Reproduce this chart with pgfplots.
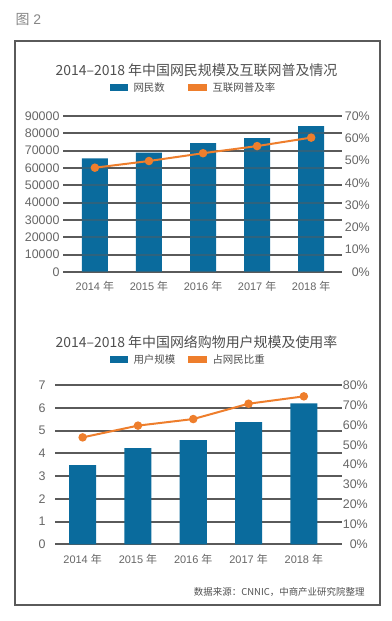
\documentclass[border=0pt]{standalone}
\usepackage{pgfplots}
\pgfplotsset{compat=1.18}
\usepackage{fontspec}
\setmainfont{Liberation Sans}
\newfontfamily\cjk{Noto Sans CJK SC}
\definecolor{barblue}{HTML}{0A6B9D}
\definecolor{lineorange}{HTML}{EE7E2C}
\definecolor{gridgray}{HTML}{5A5A5A}
\definecolor{txtgray}{HTML}{666666}
\definecolor{titlegray}{HTML}{4F4F4F}
\pgfplotsset{
  base/.style={scale only axis, axis line style={draw=none}, major tick length=0pt,
    tick label style={font=\fontsize{12.5}{14}\selectfont, text=txtgray},
    /pgf/number format/assume math mode=true,
    /pgf/number format/set thousands separator={},
    scaled y ticks=false, clip=false},
  yrs/.style={xtick={0,1,2,3,4},
    xticklabels={{2014 {\cjk 年}},{2015 {\cjk 年}},{2016 {\cjk 年}},{2017 {\cjk 年}},{2018 {\cjk 年}}},
    x tick label style={font=\fontsize{11}{13}\selectfont, yshift=-6bp}},
}
\begin{document}
\begin{tikzpicture}[x=1bp,y=1bp]
\path[use as bounding box] (0,0) rectangle (391,621);
\draw[gridgray, line width=2bp] (15,580) rectangle (380,16);
\node[anchor=west, text=gray!95, font=\fontsize{14}{16}\selectfont] at (12,601) {{\cjk 图} 2};

% ---------- chart 1 ----------
\node[text=titlegray, font=\fontsize{14}{16}\selectfont\cjk] at (196.5,551) {2014–2018 年中国网民规模及互联网普及情况};
\fill[barblue] (110,530) rectangle (128,536.5);
\node[anchor=west, text=titlegray, font=\fontsize{10.5}{12}\selectfont\cjk] at (130,533) {网民数};
\fill[lineorange] (188,530) rectangle (207,536.5);
\node[anchor=west, text=titlegray, font=\fontsize{10.5}{12}\selectfont\cjk] at (209,533) {互联网普及率};

\begin{axis}[base, yrs, at={(63bp,349bp)}, anchor=south west, width=279bp, height=156bp,
  xmin=-0.59, xmax=4.57, ymin=0, ymax=90000, ytick={0,10000,...,90000},
  ymajorgrids, grid style={gridgray, line width=2bp}]
\addplot[ybar, bar width=26bp, fill=barblue, draw=none] coordinates {(0,65600) (1,68800) (2,74400) (3,77300) (4,84200)};
\pgfplotsinvokeforeach{0,10000,20000,30000,40000,50000,60000,70000,80000,90000}{
  \draw[gridgray, opacity=0.45, line width=2bp] (axis cs:-0.59,#1) -- (axis cs:4.57,#1);}
\end{axis}
\begin{axis}[base, at={(63bp,349bp)}, anchor=south west, width=279bp, height=156bp,
  xmin=-0.59, xmax=4.57, ymin=0, ymax=70, ytick={0,10,...,70}, hide x axis,
  yticklabel pos=right, yticklabel={\pgfmathprintnumber{\tick}\%},
  y tick label style={anchor=east, inner sep=0pt, xshift=28bp}]
\addplot[lineorange, line width=2bp, mark=*, mark size=3.2bp, mark options={fill=lineorange, draw=none}]
  coordinates {(0,46.8) (1,49.8) (2,53.3) (3,56.5) (4,60.3)};
\end{axis}

% ---------- chart 2 ----------
\node[text=titlegray, font=\fontsize{14}{16}\selectfont\cjk] at (196.5,279) {2014–2018 年中国网络购物用户规模及使用率};
\fill[barblue] (110,258) rectangle (128,264.5);
\node[anchor=west, text=titlegray, font=\fontsize{10.5}{12}\selectfont\cjk] at (130,261) {用户规模};
\fill[lineorange] (188,258) rectangle (207,264.5);
\node[anchor=west, text=titlegray, font=\fontsize{10.5}{12}\selectfont\cjk] at (209,261) {占网民比重};

\begin{axis}[base, yrs, at={(55bp,76.7bp)}, anchor=south west, width=287bp, height=159.3bp,
  xmin=-0.5, xmax=4.69, ymin=0, ymax=7, ytick={0,1,...,7},
  y tick label style={xshift=-6bp},
  ymajorgrids, grid style={gridgray, line width=2bp}]
\addplot[ybar, bar width=27bp, fill=barblue, draw=none] coordinates {(0,3.48) (1,4.23) (2,4.58) (3,5.37) (4,6.19)};
\end{axis}
\begin{axis}[base, at={(55bp,76.7bp)}, anchor=south west, width=287bp, height=159.3bp,
  xmin=-0.5, xmax=4.69, ymin=0, ymax=80, ytick={0,10,...,80}, hide x axis,
  yticklabel pos=right, yticklabel={\pgfmathprintnumber{\tick}\%},
  y tick label style={anchor=east, inner sep=0pt, xshift=26bp}]
\addplot[lineorange, line width=2bp, mark=*, mark size=3.2bp, mark options={fill=lineorange, draw=none}]
  coordinates {(0,53.7) (1,59.6) (2,62.9) (3,70.6) (4,74.3)};
\end{axis}

\node[anchor=east, text=titlegray, font=\fontsize{9.5}{11}\selectfont\cjk] at (368,29) {数据来源：CNNIC，中商产业研究院整理};
\end{tikzpicture}
\end{document}
